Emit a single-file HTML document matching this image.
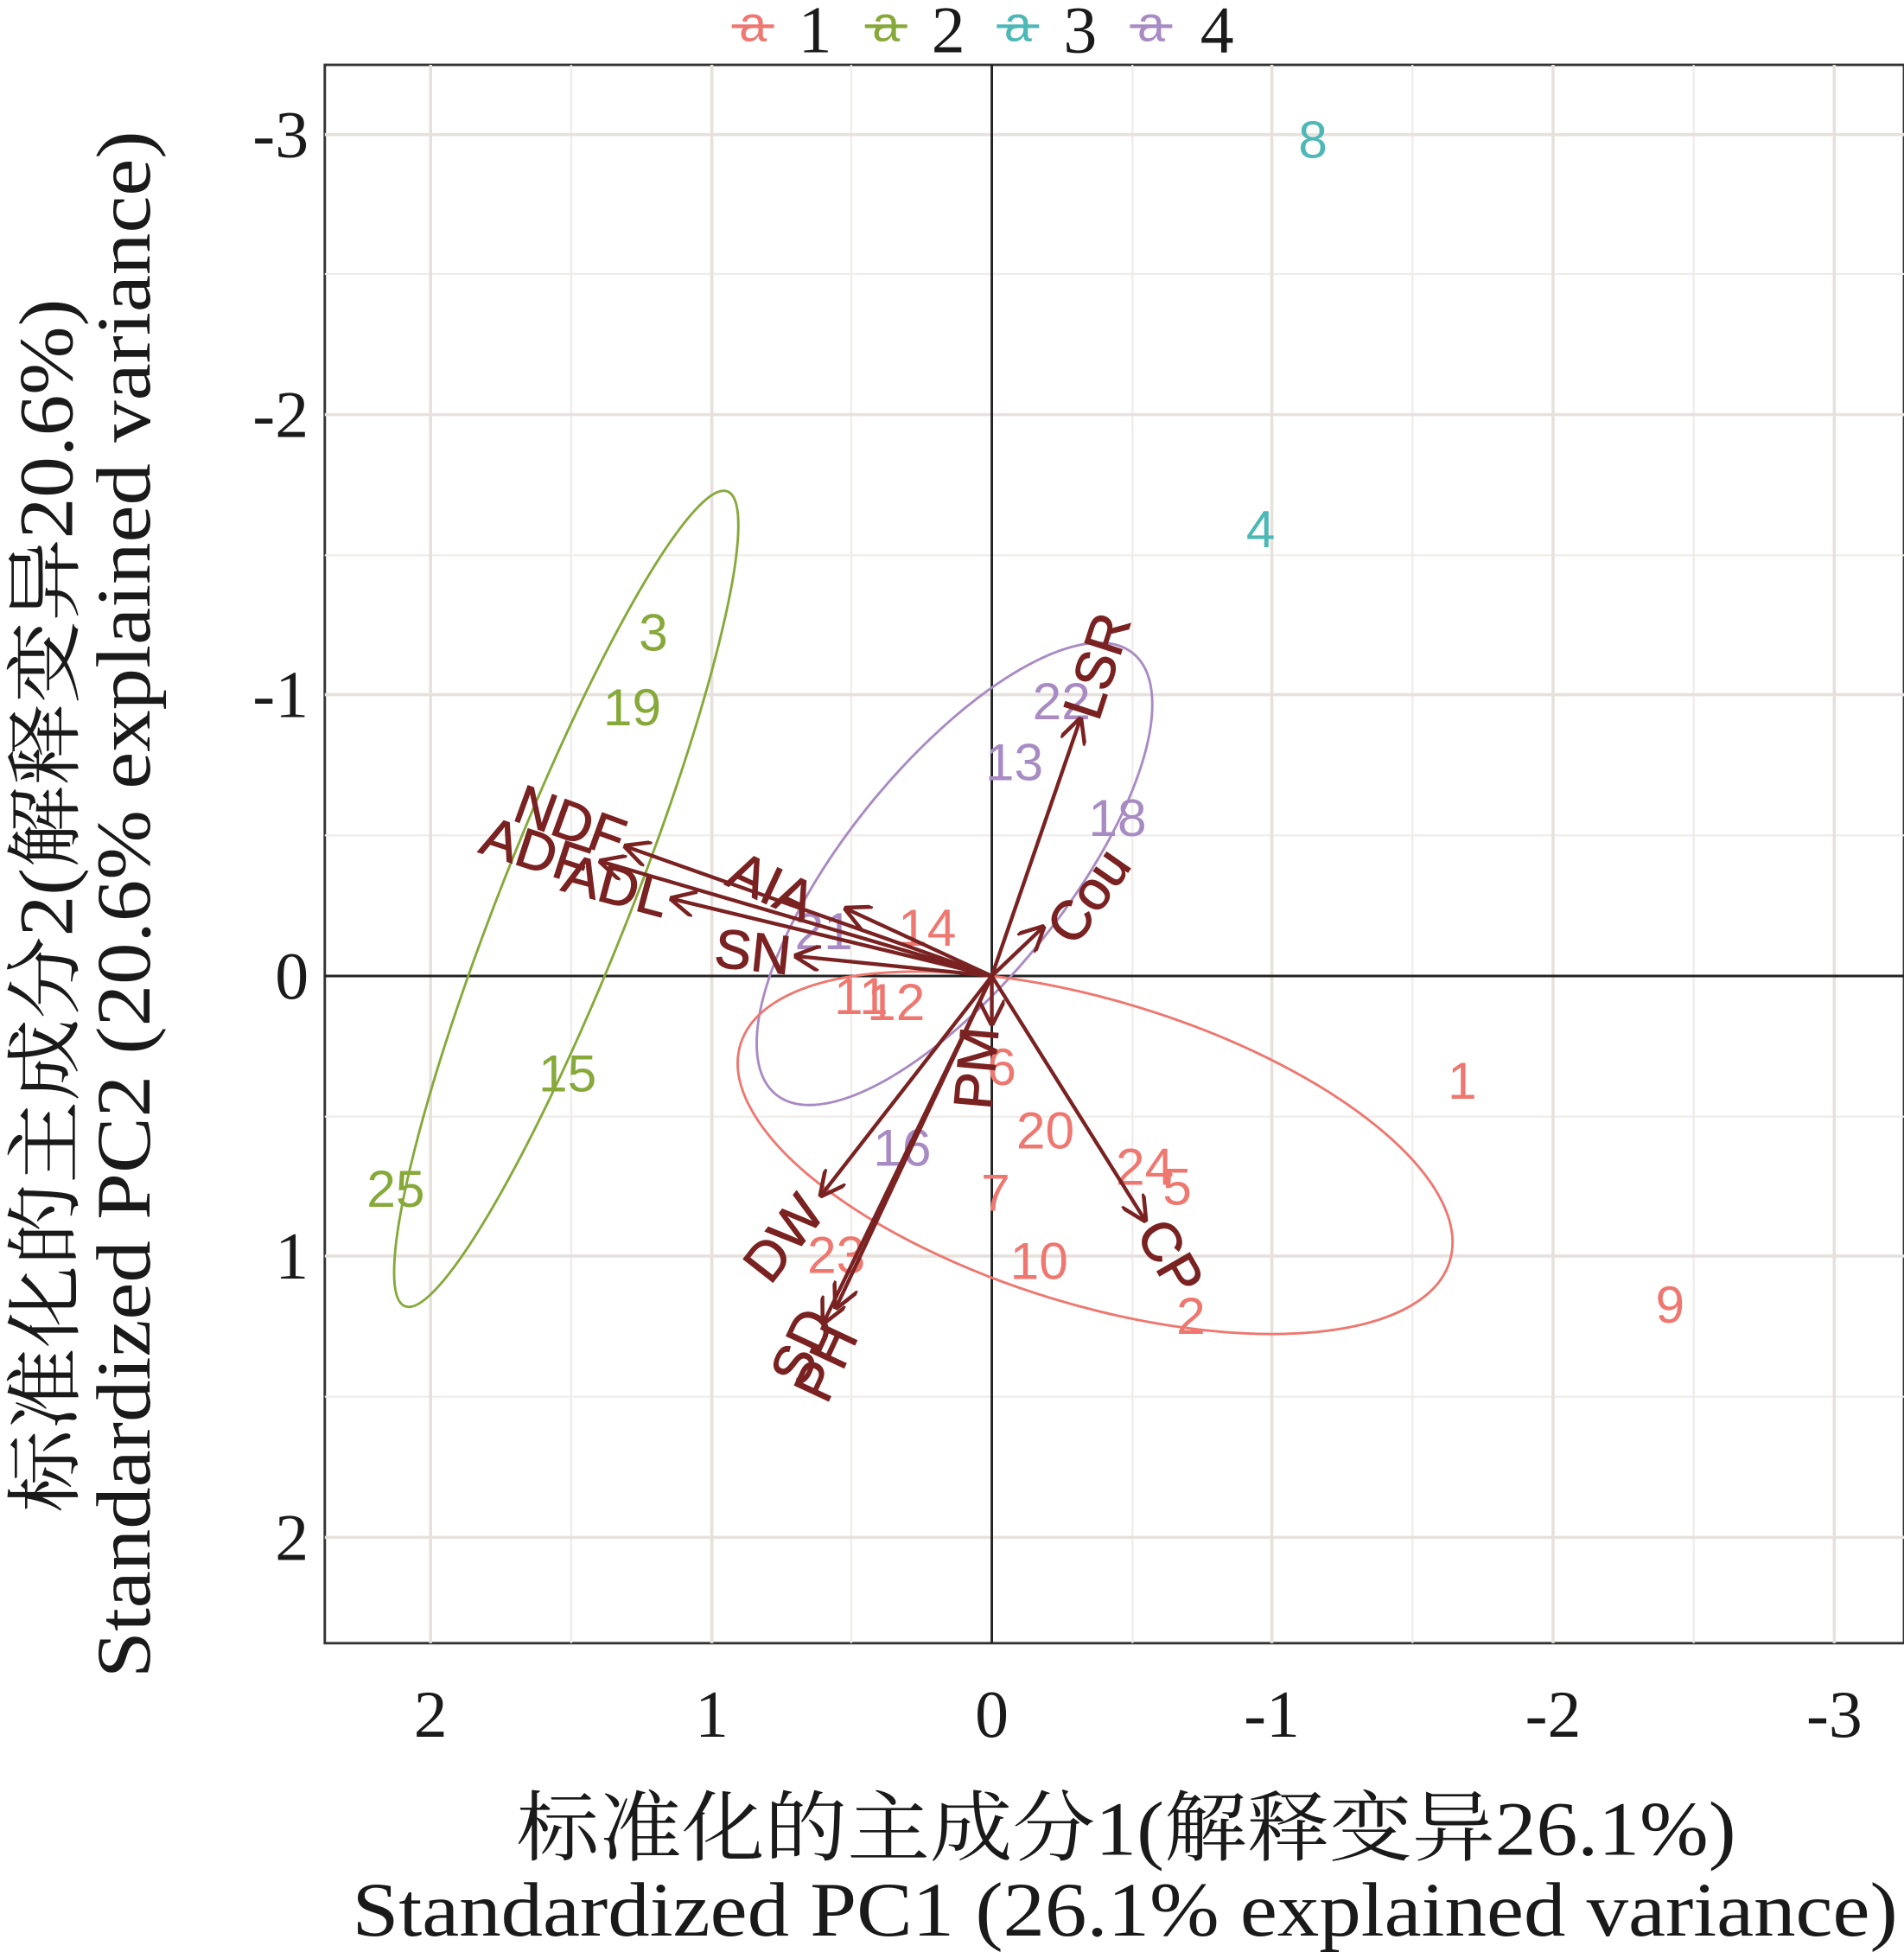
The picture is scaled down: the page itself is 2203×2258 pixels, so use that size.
<!DOCTYPE html>
<html><head><meta charset="utf-8"><style>
html,body{margin:0;padding:0;background:#fff;}
svg{display:block;}
.t{font-family:"Liberation Serif","Noto Serif CJK SC",serif;fill:#1a1a1a;}
.p{font-family:"Liberation Sans",sans-serif;font-size:42px;text-anchor:middle;dominant-baseline:central;}
.v{font-family:"Liberation Sans",sans-serif;font-size:44px;fill:#7a2222;text-anchor:middle;dominant-baseline:central;stroke:#7a2222;stroke-width:0.8;}
</style></head><body>
<svg width="2203" height="2258" viewBox="0 0 1530 1568" xmlns="http://www.w3.org/2000/svg">
<defs><marker id="ar" viewBox="0 0 10 10" refX="9" refY="5" markerWidth="7" markerHeight="7" orient="auto-start-reverse"><path d="M0,0 L10,5 L0,10" fill="none" stroke="#7a2222" stroke-width="1.5"/></marker></defs>
<rect x="261" y="52" width="1269" height="1268" fill="#fff" stroke="#333" stroke-width="2"/>
<g stroke="#efebe8" stroke-width="1.5">
<line x1="459" y1="52" x2="459" y2="1320"/><line x1="684" y1="52" x2="684" y2="1320"/><line x1="910" y1="52" x2="910" y2="1320"/><line x1="1135" y1="52" x2="1135" y2="1320"/><line x1="1361" y1="52" x2="1361" y2="1320"/>
<line x1="261" y1="220" x2="1530" y2="220"/><line x1="261" y1="446" x2="1530" y2="446"/><line x1="261" y1="671" x2="1530" y2="671"/><line x1="261" y1="897" x2="1530" y2="897"/><line x1="261" y1="1122" x2="1530" y2="1122"/>
</g>
<g stroke="#e6e1dd" stroke-width="2.5">
<line x1="346" y1="52" x2="346" y2="1320"/><line x1="572" y1="52" x2="572" y2="1320"/><line x1="1022" y1="52" x2="1022" y2="1320"/><line x1="1248" y1="52" x2="1248" y2="1320"/><line x1="1474" y1="52" x2="1474" y2="1320"/>
<line x1="261" y1="108" x2="1530" y2="108"/><line x1="261" y1="333" x2="1530" y2="333"/><line x1="261" y1="558" x2="1530" y2="558"/><line x1="261" y1="1009" x2="1530" y2="1009"/><line x1="261" y1="1235" x2="1530" y2="1235"/>
</g>
<line x1="797" y1="52" x2="797" y2="1320" stroke="#222" stroke-width="2"/>
<line x1="261" y1="784" x2="1530" y2="784" stroke="#222" stroke-width="2"/>
<g fill="none" stroke-width="2">
<ellipse cx="455" cy="722" rx="352" ry="52" transform="rotate(-68.4 455 722)" stroke="#86A93A"/>
<ellipse cx="767" cy="702" rx="228" ry="88" transform="rotate(-51 767 702)" stroke="#A98BC4"/>
<ellipse cx="880" cy="926" rx="298" ry="122" transform="rotate(17 880 926)" stroke="#EE7770"/>
</g>
<g class="p" fill="#EE7770">
<text x="1175" y="868">1</text><text x="1342" y="1048">9</text><text x="957" y="1057">2</text><text x="946" y="953">5</text><text x="920" y="937">24</text><text x="835" y="1013">10</text><text x="800" y="958">7</text><text x="840" y="908">20</text><text x="805" y="857">6</text><text x="692" y="800">11</text><text x="720" y="805">12</text><text x="745" y="745">14</text><text x="672" y="1008">23</text>
</g>
<g class="p" fill="#86A93A"><text x="525" y="508">3</text><text x="508" y="568">19</text><text x="456" y="862">15</text><text x="318" y="955">25</text></g>
<g class="p" fill="#4DB8B5"><text x="1055" y="112">8</text><text x="1013" y="425">4</text></g>
<g class="p" fill="#A98BC4"><text x="853" y="563">22</text><text x="815" y="612">13</text><text x="898" y="657">18</text><text x="725" y="922">16</text><text x="662" y="748">21</text></g>
<g stroke="#7a2222" stroke-width="3" marker-end="url(#ar)">
<line x1="797" y1="784" x2="503" y2="680"/><line x1="797" y1="784" x2="483" y2="692"/><line x1="797" y1="784" x2="540" y2="722"/><line x1="797" y1="784" x2="640" y2="768"/><line x1="797" y1="784" x2="680" y2="730"/>
<line x1="797" y1="784" x2="868" y2="578"/><line x1="797" y1="784" x2="838" y2="745"/><line x1="797" y1="784" x2="920" y2="980"/><line x1="797" y1="784" x2="797" y2="822"/>
<line x1="797" y1="784" x2="660" y2="960"/><line x1="797" y1="784" x2="672" y2="1050"/><line x1="797" y1="784" x2="662" y2="1062"/>
</g>
<g class="v">
<text x="458" y="660" transform="rotate(20 458 660)">NDF</text>
<text x="430" y="684" transform="rotate(18 430 684)">ADF</text>
<text x="495" y="712" transform="rotate(15 495 712)">ADL</text>
<text x="605" y="765" transform="rotate(6 605 765)">SN</text>
<text x="620" y="712" transform="rotate(25 620 712)">AIA</text>
<text x="882" y="535" transform="rotate(-72 882 535)">LSR</text>
<text x="875" y="720" transform="rotate(-55 875 720)">Cou</text>
<text x="940" y="1010" transform="rotate(60 940 1010)">CP</text>
<text x="785" y="858" transform="rotate(-85 785 858)">PM</text>
<text x="630" y="995" transform="rotate(-52 630 995)">DW</text>
<text x="645" y="1082" transform="rotate(-65 645 1082)">SD</text>
<text x="664" y="1095" transform="rotate(-65 664 1095)">PH</text>
</g>
<g class="t" font-size="54" text-anchor="end">
<text x="248" y="126">-3</text><text x="248" y="351">-2</text><text x="248" y="576">-1</text><text x="248" y="802">0</text><text x="248" y="1027">1</text><text x="248" y="1253">2</text>
</g>
<g class="t" font-size="54" text-anchor="middle">
<text x="346" y="1395">2</text><text x="572" y="1395">1</text><text x="797" y="1395">0</text><text x="1022" y="1395">-1</text><text x="1248" y="1395">-2</text><text x="1474" y="1395">-3</text>
</g>
<g class="t">
<text x="415" y="1490" font-size="62" textLength="980" lengthAdjust="spacingAndGlyphs">标准化的主成分1(解释变异26.1%)</text>
<text x="283" y="1555" font-size="62" textLength="1242" lengthAdjust="spacingAndGlyphs">Standardized PC1 (26.1% explained variance)</text>
<text transform="translate(58 1215) rotate(-90)" font-size="62" textLength="975" lengthAdjust="spacingAndGlyphs">标准化的主成分2(解释变异20.6%)</text>
<text transform="translate(120 1348) rotate(-90)" font-size="62" textLength="1243" lengthAdjust="spacingAndGlyphs">Standardized PC2 (20.6% explained variance)</text>
</g>
<g font-family="Liberation Sans,sans-serif" font-size="40" text-anchor="middle">
<text x="605" y="33" fill="#EE7770">a</text><text x="712" y="33" fill="#86A93A">a</text><text x="818" y="33" fill="#4DB8B5">a</text><text x="925" y="33" fill="#A98BC4">a</text>
</g>
<g stroke-width="3"><line x1="588" y1="21" x2="622" y2="21" stroke="#EE7770"/><line x1="695" y1="21" x2="729" y2="21" stroke="#86A93A"/><line x1="801" y1="21" x2="835" y2="21" stroke="#4DB8B5"/><line x1="908" y1="21" x2="942" y2="21" stroke="#A98BC4"/></g>
<g class="t" font-size="54" text-anchor="middle"><text x="655" y="42">1</text><text x="762" y="42">2</text><text x="868" y="42">3</text><text x="978" y="42">4</text></g>
</svg>
</body></html>
